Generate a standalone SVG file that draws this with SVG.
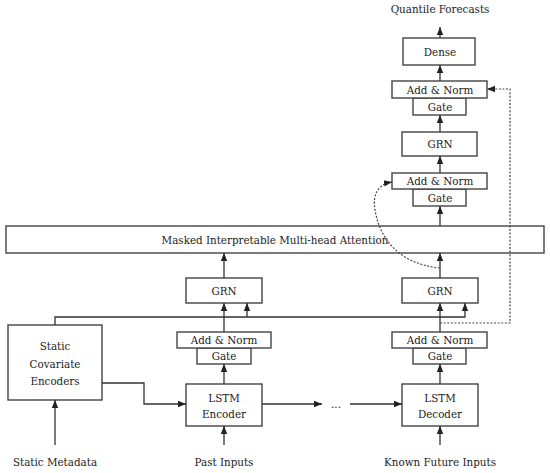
<svg xmlns="http://www.w3.org/2000/svg" width="550" height="473" viewBox="0 0 550 473">
<defs>
<marker id="ah" markerWidth="8" markerHeight="8" viewBox="0 0 10 10" refX="10" refY="5" orient="auto" markerUnits="userSpaceOnUse">
<path d="M0,1 L10,5 L0,9 Z" fill="#222"/>
</marker>
<style>
.box{fill:#fff;stroke:#444;stroke-width:1.4}
.t{font-family:'DejaVu Serif Condensed','DejaVu Serif',serif;font-stretch:condensed;font-size:11.5px;fill:#222;text-anchor:middle}
.c{fill:none;stroke:#333;stroke-width:1.3}
.d{fill:none;stroke:#444;stroke-width:1.2;stroke-dasharray:2 1.6}
</style>
</defs>
<rect width="550" height="473" fill="#fff"/>
<g id="static-covariate-encoders">
<rect class="box" x="8" y="325" width="94" height="75"/>
<text class="t" x="55" y="349.5">Static</text>
<text class="t" x="55" y="367.5">Covariate</text>
<text class="t" x="55" y="384.5">Encoders</text>
</g>
<g id="lstm-encoder">
<rect class="box" x="186" y="384" width="76" height="42"/>
<text class="t" x="224" y="401.5">LSTM</text>
<text class="t" x="224" y="417.5">Encoder</text>
</g>
<g id="lstm-decoder">
<rect class="box" x="402" y="384" width="76" height="42"/>
<text class="t" x="440" y="401.5">LSTM</text>
<text class="t" x="440" y="417.5">Decoder</text>
</g>
<g id="gate-left">
<rect class="box" x="197" y="348" width="54" height="16"/>
<text class="t" x="224" y="360">Gate</text>
</g>
<g id="addnorm-left">
<rect class="box" x="177" y="332" width="94" height="16"/>
<text class="t" x="224" y="344">Add &amp; Norm</text>
</g>
<g id="gate-right">
<rect class="box" x="413" y="348" width="53" height="16"/>
<text class="t" x="440" y="360">Gate</text>
</g>
<g id="addnorm-right">
<rect class="box" x="392" y="332" width="95" height="16"/>
<text class="t" x="440" y="344">Add &amp; Norm</text>
</g>
<g id="grn-left">
<rect class="box" x="186" y="278" width="76" height="25"/>
<text class="t" x="224" y="294.5">GRN</text>
</g>
<g id="grn-right">
<rect class="box" x="402" y="278" width="76" height="25"/>
<text class="t" x="440" y="294.5">GRN</text>
</g>
<g id="attention">
<rect class="box" x="6" y="226" width="538" height="27"/>
<text class="t" x="275" y="243.5">Masked Interpretable Multi-head Attention</text>
</g>
<g id="gate-2">
<rect class="box" x="413" y="189" width="53" height="17"/>
<text class="t" x="440" y="201.5">Gate</text>
</g>
<g id="addnorm-2">
<rect class="box" x="392" y="173" width="95" height="16"/>
<text class="t" x="440" y="185">Add &amp; Norm</text>
</g>
<g id="grn-top">
<rect class="box" x="402" y="132" width="75" height="24"/>
<text class="t" x="440" y="148">GRN</text>
</g>
<g id="gate-3">
<rect class="box" x="413" y="98" width="53" height="17"/>
<text class="t" x="440" y="110.5">Gate</text>
</g>
<g id="addnorm-3">
<rect class="box" x="392" y="81" width="95" height="17"/>
<text class="t" x="440" y="93.5">Add &amp; Norm</text>
</g>
<g id="dense">
<rect class="box" x="403" y="38" width="72" height="27"/>
<text class="t" x="440" y="55.5">Dense</text>
</g>
<g id="labels">
<text class="t" x="440" y="13">Quantile Forecasts</text>
<text class="t" x="55" y="466">Static Metadata</text>
<text class="t" x="224" y="466">Past Inputs</text>
<text class="t" x="440" y="466">Known Future Inputs</text>
<text class="t" x="336" y="408">...</text>
</g>
<g id="connectors">
<path class="c" d="M55,445 V400" marker-end="url(#ah)"/>
<path class="c" d="M224,445 V426" marker-end="url(#ah)"/>
<path class="c" d="M440,445 V426" marker-end="url(#ah)"/>
<path class="c" d="M102,383 H144 V404 H186" marker-end="url(#ah)"/>
<path class="c" d="M262,404 H322" marker-end="url(#ah)"/>
<path class="c" d="M350,404 H402" marker-end="url(#ah)"/>
<path class="c" d="M224,384 V364" marker-end="url(#ah)"/>
<path class="c" d="M440,384 V364" marker-end="url(#ah)"/>
<path class="c" d="M224,332 V303" marker-end="url(#ah)"/>
<path class="c" d="M440,332 V303" marker-end="url(#ah)"/>
<path class="c" d="M55,325 V317 H465 V303" marker-end="url(#ah)"/>
<path class="c" d="M247,317 V303" marker-end="url(#ah)"/>
<path class="c" d="M224,278 V253" marker-end="url(#ah)"/>
<path class="c" d="M440,278 V253" marker-end="url(#ah)"/>
<path class="c" d="M440,226 V206" marker-end="url(#ah)"/>
<path class="c" d="M440,173 V156" marker-end="url(#ah)"/>
<path class="c" d="M440,132 V115" marker-end="url(#ah)"/>
<path class="c" d="M440,81 V65" marker-end="url(#ah)"/>
<path class="c" d="M440,38 V27" marker-end="url(#ah)"/>
<path class="d" d="M440,323 H510 V89 H487" marker-end="url(#ah)"/>
<path class="d" d="M440,268 C400,264 380,240 375,210 C372,192 380,184 392,182" marker-end="url(#ah)"/>
</g>
</svg>
